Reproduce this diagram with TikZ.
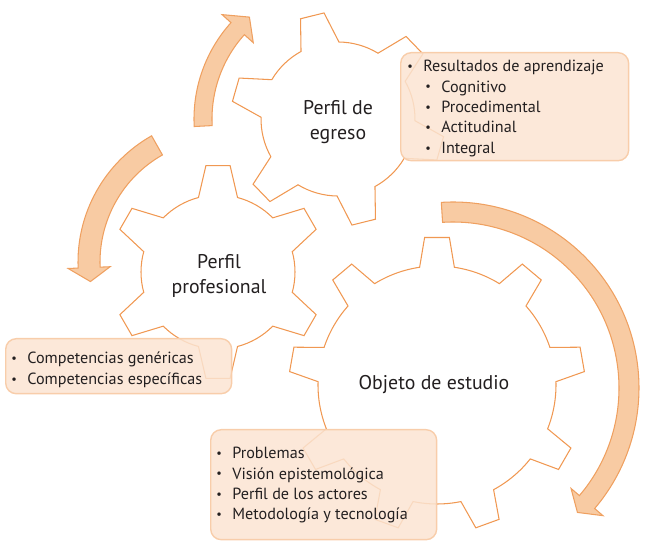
\documentclass[tikz,border=0pt]{standalone}
\usepackage{fontspec}
\setmainfont{PT Sans}
\usepackage{tikz}
\usetikzlibrary{positioning}
\definecolor{gearorange}{RGB}{240,152,82}
\definecolor{arrowfill}{RGB}{248,203,163}
\definecolor{arrowline}{RGB}{239,160,96}
\definecolor{boxfill}{RGB}{251,228,210}
\definecolor{boxline}{RGB}{248,205,170}
\definecolor{inktext}{RGB}{35,31,32}
\tikzset{
  gearline/.style={draw=gearorange, line width=0.6pt, line join=miter},
  bandarrow/.style={draw=arrowline, fill=arrowfill, line width=0.6pt, line join=miter},
  listbox/.style={rectangle, rounded corners=6pt, draw=boxline, line width=0.8pt, fill=boxfill, fill opacity=0.85, anchor=north west},
  geartext/.style={align=center, font=\fontsize{11.3}{14.2}\selectfont, text=inktext},
  listtext/.style={align=left, anchor=north west, inner sep=0pt, font=\fontsize{9.2}{11.6}\selectfont, text=inktext},
}
% gear outline: cx, cy, teeth, first tooth angle, inner r, outer r, tip half angle, base half angle
\newcommand{\gear}[8]{%
  \begin{scope}[shift={(#1,#2)}]
    \pgfmathsetmacro{\pitch}{360/#3}
    \draw[gearline] ({#4-#8}:#5)
      \foreach \k in {1,...,#3}{
        -- ({#4+(\k-1)*\pitch-#7}:#6) -- ({#4+(\k-1)*\pitch+#7}:#6) -- ({#4+(\k-1)*\pitch+#8}:#5)
        arc[start angle={#4+(\k-1)*\pitch+#8}, end angle={#4+\k*\pitch-#8}, radius=#5]
      } -- cycle;
  \end{scope}}
% curved band arrow: cx, cy, r, width, start, end, tip angle, head half width
\newcommand{\bentarrow}[8]{%
  \begin{scope}[shift={(#1,#2)}]
    \draw[bandarrow] (#5:{#3+#4/2}) arc[start angle=#5, end angle=#6, radius={#3+#4/2}]
      -- (#6:{#3+#8}) -- (#7:#3) -- (#6:{#3-#8}) -- (#6:{#3-#4/2})
      arc[start angle=#6, end angle=#5, radius={#3-#4/2}] -- cycle;
  \end{scope}}
\newcommand{\itm}{\makebox[3.2mm][l]{\raisebox{0.15ex}{\scriptsize\textbullet}}}

\begin{document}
\begin{tikzpicture}[x=0.02cm, y=0.02cm]
\useasboundingbox (0,0) rectangle (650,545);
% gears
\gear{437}{160}{9}{90}{119}{148}{4.8}{8.4}
\gear{218}{273}{6}{90}{77}{107}{6.5}{14.7}
\gear{338}{426}{6}{104}{77}{107}{6.5}{14.7}
% arrows round the gears
\bentarrow{338}{426}{135}{18}{183}{138}{131}{21}
\bentarrow{223}{283}{134}{22}{119.5}{182.4}{188.4}{21}
\bentarrow{453}{157}{176}{20}{93.6}{-40.4}{-45}{21}
% lists
\node[listbox, minimum width=4.56cm, minimum height=2.16cm] (resbox) at (400,493) {};
\node[listtext] (restext) at (407,485) {\itm Resultados de aprendizaje\\
  \hspace*{3.6mm}\itm Cognitivo\\
  \hspace*{3.6mm}\itm Procedimental\\
  \hspace*{3.6mm}\itm Actitudinal\\
  \hspace*{3.6mm}\itm Integral};
\node[listbox, minimum width=4.52cm, minimum height=1.1cm] (compbox) at (5,207) {};
\node[listtext] (comptext) at (11,193) {\itm Competencias genéricas\\
  \itm Competencias específicas};
\node[listbox, minimum width=4.52cm, minimum height=2.2cm] (probbox) at (210,116) {};
\node[listtext] (probtext) at (216,98) {\itm Problemas\\
  \itm Visión epistemológica\\
  \itm Perfil de los actores\\
  \itm Metodología y tecnología};
% gear labels
\node[geartext] (egreso) at (338,423) {Perfil de\\egreso};
\node[geartext] (profesional) at (219,269) {Perfil\\profesional};
\node[geartext] (objeto) at (434,160) {Objeto de estudio};
\end{tikzpicture}
\end{document}
